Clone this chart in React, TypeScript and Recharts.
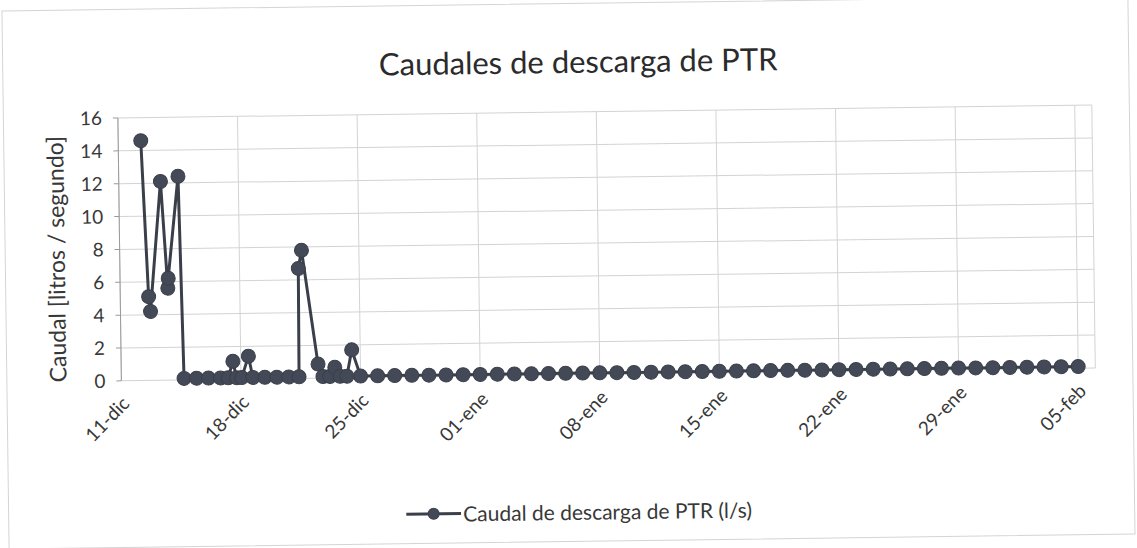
import React from 'react';
import { LineChart, Line, XAxis, YAxis, CartesianGrid, Legend, Label } from 'recharts';

const chartTitle = 'Caudales de descarga de PTR';
const seriesName = 'Caudal de descarga de PTR (l/s)';
const yAxisTitle = 'Caudal [litros / segundo]';

// day offsets counted from 11-dic
const dayOffsets = [
  1.32, 1.66, 1.76, 2.44, 2.79, 2.82, 3.47, 3.67, 4.4, 5.1,
  5.8, 6.25, 6.54, 6.74, 7.05, 7.45, 7.7, 8.4, 9.1, 9.8,
  10.4, 10.44, 10.64, 11.52, 11.8, 12.2, 12.5, 12.8, 13.2, 13.5,
  14, 15, 16, 17, 18, 19, 20, 21, 22, 23,
  24, 25, 26, 27, 28, 29, 30, 31, 32, 33,
  34, 35, 36, 37, 38, 39, 40, 41, 42, 43,
  44, 45, 46, 47, 48, 49, 50, 51, 52, 53,
  54, 55, 56,
];
const flowValues = [
  14.6, 5.1, 4.2, 12.1, 5.6, 6.2, 12.4, 0.1, 0.1, 0.1,
  0.1, 0.1, 1.1, 0.1, 0.1, 1.4, 0.1, 0.1, 0.1, 0.1,
  0.1, 6.7, 7.8, 0.86, 0.1, 0.1, 0.65, 0.1, 0.1, 1.7,
  0.1, 0.1, 0.1, 0.1, 0.1, 0.1, 0.1, 0.1, 0.1, 0.1,
  0.1, 0.1, 0.1, 0.1, 0.1, 0.1, 0.1, 0.1, 0.1, 0.1,
  0.1, 0.1, 0.1, 0.1, 0.1, 0.1, 0.1, 0.1, 0.1, 0.1,
  0.1, 0.1, 0.1, 0.1, 0.1, 0.1, 0.1, 0.1, 0.1, 0.1,
  0.1, 0.1, 0.1,
];

const weeklyTicks = [0, 7, 14, 21, 28, 35, 42, 49, 56];
const tickLabels = ['11-dic', '18-dic', '25-dic', '01-ene', '08-ene', '15-ene', '22-ene', '29-ene', '05-feb'];
const dailyTicks = [
  0, 1, 2, 3, 4, 5, 6, 7, 8, 9, 10, 11, 12, 13, 14, 15, 16, 17, 18, 19,
  20, 21, 22, 23, 24, 25, 26, 27, 28, 29, 30, 31, 32, 33, 34, 35, 36, 37, 38, 39,
  40, 41, 42, 43, 44, 45, 46, 47, 48, 49, 50, 51, 52, 53, 54, 55, 56, 57,
];
const yTicks = [0, 2, 4, 6, 8, 10, 12, 14, 16];

const data = dayOffsets.map((d, i) => ({ day: d, flow: flowValues[i] }));

const FONT = 'Lato, "Open Sans", sans-serif';
const TEXT = '#383838';
const LINE = '#3a3f4a';
const DOT = '#434957';

const XTick = (props: any) => {
  const { x, y, payload } = props;
  const idx = weeklyTicks.indexOf(payload.value);
  const label = idx >= 0 ? tickLabels[idx] : '';
  const ax = x + 9;
  const ay = y + 22;
  return (
    <text x={ax} y={ay} transform={`rotate(-45, ${ax}, ${ay})`} textAnchor="end"
      fontFamily={FONT} fontSize={19} fill={TEXT}>{label}</text>
  );
};

const YLabel = (props: any) => {
  const vb = props.viewBox || { y: 112, height: 278 };
  const cx = 56;
  const cy = vb.y + vb.height / 2 + 9;
  return (
    <text x={cx} y={cy} transform={`rotate(-90, ${cx}, ${cy})`} textAnchor="middle"
      dominantBaseline="central" fontFamily={FONT} fontSize={23} fill={TEXT}>{yAxisTitle}</text>
  );
};

const LegendContent = () => (
  <div style={{ position: 'relative', width: 1137, height: 0 }}>
    <div style={{ position: 'absolute', left: 403, top: -13, display: 'flex', alignItems: 'center',
      whiteSpace: 'nowrap', fontFamily: FONT, fontSize: 21, color: TEXT, lineHeight: '26px' }}>
      <svg width={55} height={14} style={{ display: 'block' }}>
        <line x1={0} y1={7} x2={55} y2={7} stroke={LINE} strokeWidth={3} />
        <circle cx={27.5} cy={7} r={5.5} fill={DOT} stroke={LINE} strokeWidth={1} />
      </svg>
      <span style={{ marginLeft: 2 }}>{seriesName}</span>
    </div>
  </div>
);

export default function App() {
  return (
    <div style={{ position: 'absolute', left: 0, top: 0, width: 1137, height: 548, background: '#fff',
      transform: 'rotate(-0.76deg)', transformOrigin: '568px 274px', overflow: 'visible' }}>
      <div style={{ position: 'absolute', left: 5, top: 3, width: 1125, height: 537, border: '1px solid #d4d4d4' }} />
      <div style={{ position: 'absolute', left: 0, top: 42, width: 1162, textAlign: 'center',
        fontFamily: FONT, fontSize: 31, color: '#2b2b2b', lineHeight: '38px' }}>{chartTitle}</div>
      <LineChart width={1137} height={548} data={data}
        margin={{ top: 112, right: 43, bottom: 98, left: 0 }}
        style={{ position: 'absolute', left: 0, top: 0 }}>
        <CartesianGrid xAxisId="week" stroke="#d3d3d3" strokeWidth={1} vertical={true} horizontal={true} />
        <XAxis xAxisId="day" dataKey="day" type="number" domain={[0, 57]} ticks={dailyTicks}
          allowDataOverflow height={0} tickSize={4} tickFormatter={() => ''}
          axisLine={{ stroke: '#9a9a9a' }} tickLine={{ stroke: '#8a8a8a' }} interval={0} />
        <XAxis xAxisId="week" dataKey="day" type="number" domain={[0, 57]} ticks={weeklyTicks}
          allowDataOverflow height={60} tickSize={0} tick={<XTick />} axisLine={false} interval={0} />
        <YAxis type="number" domain={[0, 16]} ticks={yTicks} width={120} interval={0}
          tick={{ fontFamily: FONT, fontSize: 19, fill: TEXT }} tickSize={5} tickMargin={11}
          axisLine={{ stroke: '#9a9a9a' }} tickLine={{ stroke: '#9a9a9a' }}>
          <Label content={<YLabel />} />
        </YAxis>
        <Legend content={<LegendContent />} wrapperStyle={{ position: 'absolute', top: 512, left: 0, width: 1137, height: 0 }} />
        <Line xAxisId="day" type="linear" dataKey="flow" name={seriesName} stroke={LINE} strokeWidth={3}
          dot={{ r: 7, fill: DOT, stroke: LINE, strokeWidth: 1 }} activeDot={false}
          isAnimationActive={false} />
      </LineChart>
    </div>
  );
}
